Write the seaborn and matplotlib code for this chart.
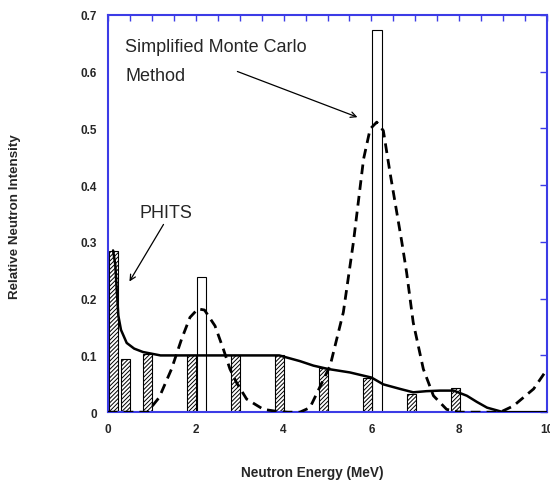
import numpy as np
import pandas as pd
import matplotlib
matplotlib.use("Agg")
import matplotlib.pyplot as plt
import seaborn as sns
from matplotlib.ticker import MultipleLocator

# Histogram bars (hatched): left edges and heights
hatch_left = [0.02, 0.30, 0.80, 1.80, 2.80, 3.80, 4.80, 5.80, 6.80, 7.80]
hatch_height = [0.284, 0.093, 0.102, 0.100, 0.100, 0.100, 0.078, 0.060, 0.032, 0.042]

# Open bars
open_left = [2.02, 6.02]
open_height = [0.239, 0.674]

# PHITS (solid line)
phits_e = [0.12, 0.17, 0.20, 0.24, 0.30, 0.43, 0.60, 0.80, 1.00, 1.20, 2.00, 3.00, 3.90,
           4.37, 4.68, 5.02, 5.51, 6.00, 6.27, 6.65, 6.95, 7.25, 7.56, 7.87, 8.17, 8.40,
           8.63, 9.00, 10.0]
phits_v = [0.285, 0.260, 0.220, 0.170, 0.145, 0.122, 0.112, 0.106, 0.103, 0.100, 0.100,
           0.100, 0.100, 0.090, 0.082, 0.076, 0.070, 0.061, 0.049, 0.041, 0.035, 0.037,
           0.038, 0.038, 0.029, 0.018, 0.008, 0.000, 0.000]

# Simplified Monte Carlo (dashed line)
smc_e = [0.0, 0.9, 1.17, 1.45, 1.68, 1.87, 2.05, 2.20, 2.44, 2.63, 2.78, 2.93, 3.16, 3.54,
         3.80, 4.10, 4.37, 4.60, 5.06, 5.36, 5.59, 5.82, 5.97, 6.12, 6.27, 6.42, 6.69,
         6.80, 6.95, 7.18, 7.41, 7.71, 8.00, 8.50, 8.93, 9.23, 9.69, 10.0]
smc_v = [0.0, 0.0, 0.026, 0.076, 0.129, 0.167, 0.182, 0.180, 0.152, 0.111, 0.076, 0.052,
         0.023, 0.005, 0.002, 0.0, 0.0, 0.008, 0.082, 0.176, 0.300, 0.446, 0.499, 0.511,
         0.496, 0.423, 0.300, 0.246, 0.158, 0.076, 0.029, 0.005, 0.0, 0.0, 0.0, 0.011,
         0.041, 0.076]

sns.set_style("white")
plt.rcParams['font.family'] = ['Liberation Sans', 'DejaVu Sans']
plt.rcParams['hatch.linewidth'] = 0.7

blue = '#3c3ce6'

fig = plt.figure(figsize=(5.5, 4.81), dpi=100)
ax = fig.add_axes([0.196, 0.141, 0.799, 0.826])

ax.bar(open_left, open_height, width=0.22, align='edge', color='white',
       edgecolor='black', linewidth=0.8, zorder=2)
ax.bar(hatch_left, hatch_height, width=0.21, align='edge', color='white',
       edgecolor='black', hatch='////////', linewidth=0.8, zorder=2)

phits = pd.DataFrame({'E': phits_e, 'I': phits_v})
smc = pd.DataFrame({'E': smc_e, 'I': smc_v})
sns.lineplot(data=phits, x='E', y='I', ax=ax, color='black', linewidth=1.8,
             estimator=None, sort=False, zorder=3)
sns.lineplot(data=smc, x='E', y='I', ax=ax, color='black', linewidth=2.0,
             estimator=None, sort=False, zorder=3, dashes=False,
             linestyle=(0, (3.5, 2.2)))

ax.set_xlim(0, 10)
ax.set_ylim(0, 0.7)
ax.xaxis.set_major_locator(MultipleLocator(2))
ax.xaxis.set_minor_locator(MultipleLocator(0.5))
ax.set_yticks(np.arange(0, 0.71, 0.1))
ax.set_yticklabels(['0', '0.1', '0.2', '0.3', '0.4', '0.5', '0.6', '0.7'])

ax.tick_params(axis='both', which='both', direction='in', top=True, right=True,
               color=blue, width=1.0)
ax.tick_params(axis='x', which='both', length=4)
ax.tick_params(axis='y', which='major', length=5)
ax.tick_params(axis='both', labelsize=8.5, pad=8)
for lab in ax.get_xticklabels() + ax.get_yticklabels():
    lab.set_fontweight('bold')

for s in ax.spines.values():
    s.set_color(blue)
    s.set_linewidth(1.5)

ax.set_xlabel('Neutron Energy (MeV)', fontsize=9.8, fontweight='bold')
ax.xaxis.set_label_coords(0.465, -0.134)
ax.set_ylabel('Relative Neutron Intensity', fontsize=9.6, fontweight='bold')
ax.yaxis.set_label_coords(-0.197, 0.495)

ax.text(0.4, 0.637, 'Simplified Monte Carlo', fontsize=13)
ax.text(0.4, 0.586, 'Method', fontsize=13)
ax.annotate('', xy=(5.74, 0.518), xytext=(2.89, 0.602),
            arrowprops=dict(arrowstyle='->', color='black', lw=0.9))

ax.text(0.72, 0.343, 'PHITS', fontsize=13)
ax.annotate('', xy=(0.46, 0.226), xytext=(1.3, 0.335),
            arrowprops=dict(arrowstyle='->', color='black', lw=0.9))

fig.savefig('out.png', dpi=100)
